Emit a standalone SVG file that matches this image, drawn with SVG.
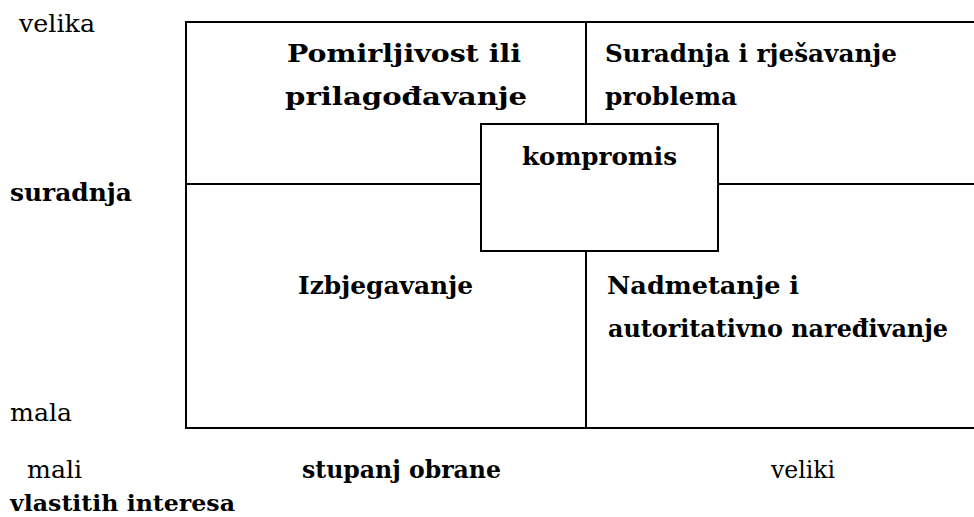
<svg xmlns="http://www.w3.org/2000/svg" width="974" height="517" viewBox="0 0 974 517">
<style>
.t{font-size:24px;fill:#000}
.b{font-weight:bold}
.s{font-size:23px}
.ln{stroke:#000;stroke-width:2;fill:none}
.box{stroke:#000;stroke-width:2;fill:#fff}
</style>
<rect width="974" height="517" fill="#fff"/>
<g id="connectors">
<path class="ln" d="M975,22 H186 V428 H975"/>
<path class="ln" d="M586,22 V428"/>
<path class="ln" d="M186,184 H975"/>
</g>
<g font-family="DejaVu Serif, serif">
<g id="quadrant-pomirljivost"><text class="t b" x="287" y="62" textLength="234" lengthAdjust="spacingAndGlyphs">Pomirljivost ili</text><text class="t b" x="285" y="105" textLength="242" lengthAdjust="spacingAndGlyphs">prilagođavanje</text></g>
<g id="quadrant-suradnja"><text class="t b" x="605" y="62" textLength="292" lengthAdjust="spacingAndGlyphs">Suradnja i rješavanje</text><text class="t b" x="605" y="105" textLength="132" lengthAdjust="spacingAndGlyphs">problema</text></g>
<g id="quadrant-izbjegavanje"><text class="t b" x="298" y="294" textLength="175" lengthAdjust="spacingAndGlyphs">Izbjegavanje</text></g>
<g id="quadrant-nadmetanje"><text class="t b" x="607" y="294" textLength="192" lengthAdjust="spacingAndGlyphs">Nadmetanje i</text><text class="t b" x="608" y="337" textLength="340" lengthAdjust="spacingAndGlyphs">autoritativno naređivanje</text></g>
<g id="kompromis"><rect class="box" x="481" y="124" width="237" height="127"/><text class="t b" x="522" y="165" textLength="155" lengthAdjust="spacingAndGlyphs">kompromis</text></g>
<g id="axis-labels">
<text class="t" x="19" y="32" textLength="76" lengthAdjust="spacingAndGlyphs">velika</text>
<text class="t b" x="10" y="201" textLength="122" lengthAdjust="spacingAndGlyphs">suradnja</text>
<text class="t" x="10" y="421" textLength="62" lengthAdjust="spacingAndGlyphs">mala</text>
<text class="t" x="27" y="478" textLength="55" lengthAdjust="spacingAndGlyphs">mali</text>
<text class="t b" x="302" y="478" textLength="199" lengthAdjust="spacingAndGlyphs">stupanj obrane</text>
<text class="t" x="771" y="478" textLength="64" lengthAdjust="spacingAndGlyphs">veliki</text>
<text class="t b s" x="10" y="511" textLength="225" lengthAdjust="spacingAndGlyphs">vlastitih interesa</text>
</g>
</g>
</svg>
